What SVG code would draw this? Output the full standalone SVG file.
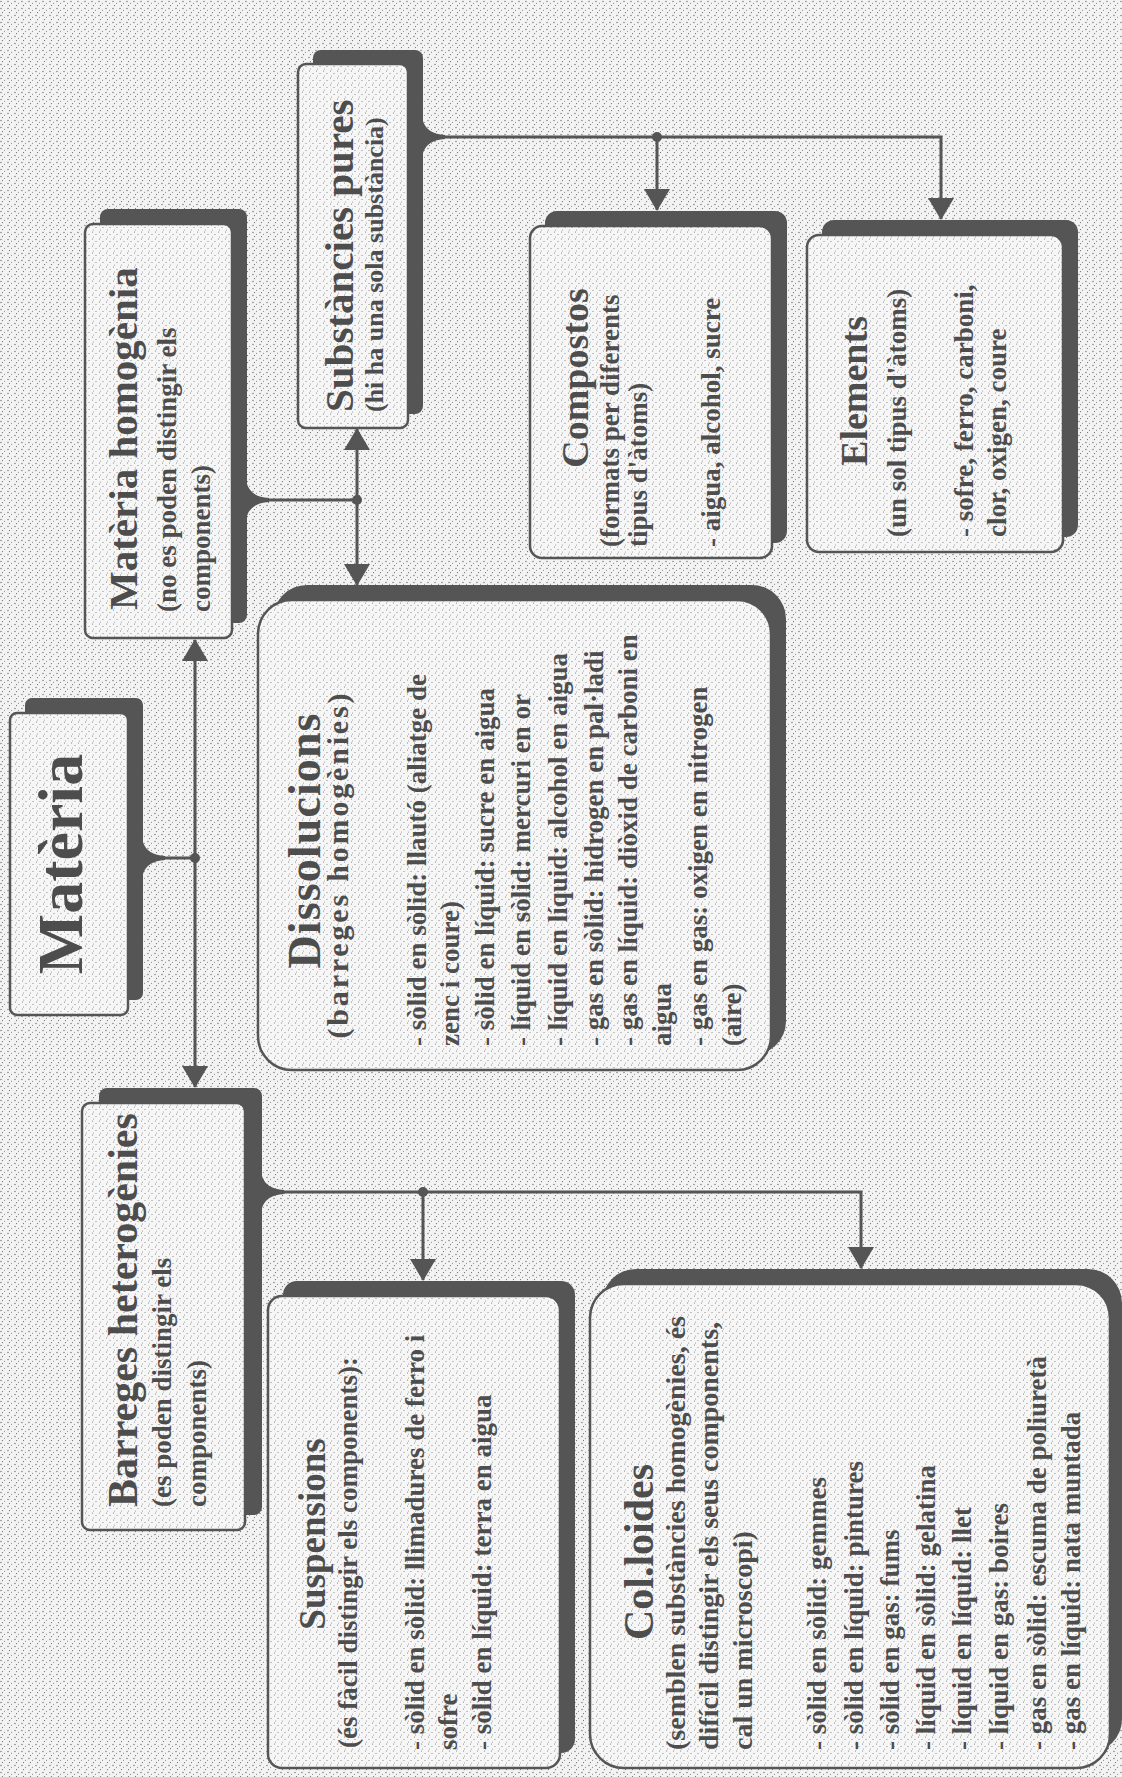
<svg xmlns="http://www.w3.org/2000/svg" width="1122" height="1777" viewBox="0 0 1122 1777">
<defs>
<pattern id="bg" width="7" height="7" patternUnits="userSpaceOnUse">
<rect width="7" height="7" fill="#f3f3f3"/>
<circle cx="1" cy="1.5" r="0.65" fill="#6a6a6a"/>
<circle cx="4.5" cy="3.2" r="0.55" fill="#7a7a7a"/>
<circle cx="2.5" cy="5.6" r="0.6" fill="#6a6a6a"/>
</pattern>
<pattern id="bx" width="7" height="7" patternUnits="userSpaceOnUse">
<rect width="7" height="7" fill="#f6f6f6"/>
<circle cx="1.5" cy="1" r="0.55" fill="#7a7a7a"/>
<circle cx="5" cy="3.5" r="0.55" fill="#7a7a7a"/>
<circle cx="2.5" cy="6" r="0.5" fill="#888"/>
</pattern>
<marker id="ah" viewBox="0 0 22 26" refX="21" refY="13" markerWidth="22" markerHeight="26" markerUnits="userSpaceOnUse" orient="auto-start-reverse">
<path d="M0,0 L22,13 L0,26 Z" fill="#555"/>
</marker>
<style>
.sh{fill:#555555;}
.bx{fill:url(#bx);stroke:#555555;stroke-width:2.5;}
.t{font-family:"Liberation Serif","Times New Roman",serif;font-weight:bold;fill:#4d4d4d;}
.b{font-size:27px;}
.ln{stroke:#555555;stroke-width:3;fill:none;}
.fl{fill:#555555;}
.dot{fill:#555555;}
</style>
</defs>
<rect x="0" y="0" width="1122" height="1777" fill="url(#bg)"/>

<g id="connectors">
<!-- Materia -->
<path class="fl" d="M143,842 Q147,855 165,856 L165,860 Q147,861 143,874 Z"/>
<line class="ln" x1="163" y1="858" x2="195" y2="858"/>
<line class="ln" x1="195" y1="640" x2="195" y2="1087" marker-start="url(#ah)" marker-end="url(#ah)"/>
<circle class="dot" cx="195" cy="858" r="5"/>
<!-- Materia homogenia -->
<path class="fl" d="M247,484 Q251,497 269,498 L269,502 Q251,503 247,516 Z"/>
<line class="ln" x1="267" y1="500" x2="357" y2="500"/>
<line class="ln" x1="357" y1="429" x2="357" y2="585" marker-start="url(#ah)" marker-end="url(#ah)"/>
<circle class="dot" cx="357" cy="500" r="5"/>
<!-- Substancies pures -->
<path class="fl" d="M423,121 Q427,134 445,135 L445,139 Q427,140 423,153 Z"/>
<polyline class="ln" points="443,137 941,137 941,219" marker-end="url(#ah)"/>
<line class="ln" x1="657" y1="137" x2="657" y2="210" marker-end="url(#ah)"/>
<circle class="dot" cx="657" cy="137" r="5"/>
<!-- Barreges heterogenies -->
<path class="fl" d="M262,1176 Q266,1189 284,1190 L284,1194 Q266,1195 262,1208 Z"/>
<polyline class="ln" points="282,1192 861,1192 861,1268" marker-end="url(#ah)"/>
<line class="ln" x1="423" y1="1192" x2="423" y2="1280" marker-end="url(#ah)"/>
<circle class="dot" cx="423" cy="1192" r="5"/>
</g>

<g id="materia">
<rect class="sh" x="25" y="698" width="118" height="302" rx="7"/>
<rect class="bx" x="10" y="713" width="118" height="302" rx="7"/>
<text class="t" font-size="64" text-anchor="middle" transform="translate(82,864) rotate(-90)">Matèria</text>
</g>

<g id="materia-homogenia">
<rect class="sh" x="100" y="209" width="147" height="414" rx="8"/>
<rect class="bx" x="85" y="224" width="147" height="414" rx="8"/>
<text class="t" font-size="41" transform="translate(137,610) rotate(-90)">Matèria homogènia</text>
<text class="t b" transform="translate(176,612) rotate(-90)">(no es poden distingir els</text>
<text class="t b" transform="translate(210,612) rotate(-90)">components)</text>
</g>

<g id="substancies-pures">
<rect class="sh" x="313" y="50" width="110" height="364" rx="8"/>
<rect class="bx" x="298" y="64" width="110" height="364" rx="8"/>
<text class="t" font-size="41" transform="translate(353,412) rotate(-90)">Substàncies pures</text>
<text class="t" font-size="26" transform="translate(383,412) rotate(-90)">(hi ha una sola substància)</text>
</g>

<g id="compostos">
<rect class="sh" x="545" y="211" width="242" height="332" rx="12"/>
<rect class="bx" x="530" y="226" width="242" height="332" rx="12"/>
<text class="t" font-size="38" text-anchor="middle" transform="translate(588,378) rotate(-90)">Compostos</text>
<text class="t b" transform="translate(619,547) rotate(-90)">(formats per diferents</text>
<text class="t b" transform="translate(647,547) rotate(-90)">tipus d'àtoms)</text>
<text class="t b" transform="translate(720,547) rotate(-90)">- aigua, alcohol, sucre</text>
</g>

<g id="elements">
<rect class="sh" x="822" y="220" width="256" height="317" rx="12"/>
<rect class="bx" x="807" y="235" width="256" height="317" rx="12"/>
<text class="t" font-size="38" text-anchor="middle" transform="translate(867,391) rotate(-90)">Elements</text>
<text class="t b" transform="translate(906,537) rotate(-90)">(un sol tipus d'àtoms)</text>
<text class="t b" transform="translate(973,537) rotate(-90)">- sofre, ferro, carboni,</text>
<text class="t b" transform="translate(1006,537) rotate(-90)">clor, oxigen, coure</text>
</g>

<g id="dissolucions">
<rect class="sh" x="273" y="585" width="513" height="470" rx="34"/>
<rect class="bx" x="258" y="600" width="513" height="470" rx="34"/>
<text class="t" font-size="46" text-anchor="middle" textLength="255" lengthAdjust="spacing" transform="translate(320,841) rotate(-90)">Dissolucions</text>
<text class="t" font-size="30" text-anchor="middle" textLength="345" lengthAdjust="spacing" transform="translate(348,866) rotate(-90)">(barreges homogènies)</text>
<text class="t b" transform="translate(426,1046) rotate(-90)">- sòlid en sòlid: llautó (aliatge de</text>
<text class="t b" transform="translate(459,1046) rotate(-90)">zenc i coure)</text>
<text class="t b" transform="translate(494,1046) rotate(-90)">- sòlid en líquid: sucre en aigua</text>
<text class="t b" transform="translate(530,1046) rotate(-90)">- líquid en sòlid: mercuri en or</text>
<text class="t b" transform="translate(567,1046) rotate(-90)">- líquid en líquid: alcohol en aigua</text>
<text class="t b" transform="translate(603,1046) rotate(-90)">- gas en sòlid: hidrogen en pal·ladi</text>
<text class="t b" transform="translate(637,1046) rotate(-90)">- gas en líquid: diòxid de carboni en</text>
<text class="t b" transform="translate(671,1046) rotate(-90)">aigua</text>
<text class="t b" transform="translate(707,1046) rotate(-90)">- gas en gas: oxigen en nitrogen</text>
<text class="t b" transform="translate(741,1046) rotate(-90)">(aire)</text>
</g>

<g id="barreges-heterogenies">
<rect class="sh" x="99" y="1088" width="163" height="427" rx="8"/>
<rect class="bx" x="82" y="1103" width="163" height="427" rx="8"/>
<text class="t" font-size="42" transform="translate(137,1507) rotate(-90)">Barreges heterogènies</text>
<text class="t b" transform="translate(171,1507) rotate(-90)">(es poden distingir els</text>
<text class="t b" transform="translate(206,1507) rotate(-90)">components)</text>
</g>

<g id="suspensions">
<rect class="sh" x="283" y="1281" width="292" height="472" rx="14"/>
<rect class="bx" x="268" y="1296" width="292" height="472" rx="14"/>
<text class="t" font-size="37" text-anchor="middle" transform="translate(325,1534) rotate(-90)">Suspensions</text>
<text class="t b" transform="translate(357,1748) rotate(-90)">(és fàcil distingir els components):</text>
<text class="t b" transform="translate(424,1750) rotate(-90)">- sòlid en sòlid: llimadures de ferro i</text>
<text class="t b" transform="translate(457,1750) rotate(-90)">sofre</text>
<text class="t b" transform="translate(491,1750) rotate(-90)">- sòlid en líquid: terra en aigua</text>
</g>

<g id="colloides">
<rect class="sh" x="602" y="1269" width="520" height="484" rx="34"/>
<rect class="bx" x="590" y="1284" width="520" height="484" rx="34"/>
<text class="t" font-size="42" text-anchor="middle" transform="translate(653,1552) rotate(-90)">Col.loides</text>
<text class="t" font-size="28" transform="translate(685,1750) rotate(-90)">(semblen substàncies homogènies, és</text>
<text class="t" font-size="28" transform="translate(718,1750) rotate(-90)">difícil distingir els seus components,</text>
<text class="t" font-size="28" transform="translate(752,1750) rotate(-90)">cal un microscopi)</text>
<text class="t b" transform="translate(826,1750) rotate(-90)">- sòlid en sòlid: gemmes</text>
<text class="t b" transform="translate(863,1750) rotate(-90)">- sòlid en líquid: pintures</text>
<text class="t b" transform="translate(899,1750) rotate(-90)">- sòlid en gas: fums</text>
<text class="t b" transform="translate(935,1750) rotate(-90)">- líquid en sòlid: gelatina</text>
<text class="t b" transform="translate(971,1750) rotate(-90)">- líquid en líquid: llet</text>
<text class="t b" transform="translate(1008,1750) rotate(-90)">- líquid en gas: boires</text>
<text class="t b" transform="translate(1046,1750) rotate(-90)">- gas en sòlid: escuma de poliuretà</text>
<text class="t b" transform="translate(1080,1750) rotate(-90)">- gas en líquid: nata muntada</text>
</g>
</svg>
